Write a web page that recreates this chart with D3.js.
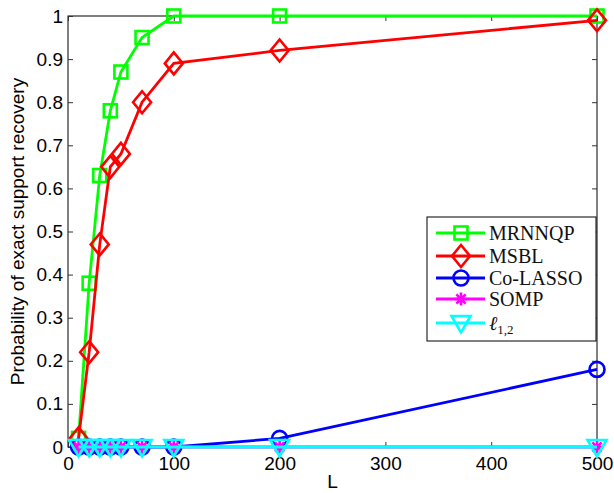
<!DOCTYPE html>
<html>
<head>
<meta charset="utf-8">
<script src="https://cdn.jsdelivr.net/npm/d3@7"></script>
<style>
  body { margin: 0; background: #fff; }
</style>
</head>
<body>
<div id="chart"></div>
<script>
// data
const L = [10, 20, 30, 40, 50, 70, 100, 200, 500];
const mrnnqp = [0.02, 0.38, 0.63, 0.78, 0.87, 0.95, 1.0, 1.0, 1.0];
const msbl = [0.02, 0.22, 0.47, 0.65, 0.68, 0.80, 0.89, 0.92, 0.99];
const colasso = [0, 0, 0, 0, 0, 0, 0, 0.02, 0.18];
const somp = [0, 0, 0, 0, 0, 0, 0, 0, 0];
const l12 = [0, 0, 0, 0, 0, 0, 0, 0, 0];
const xTicks = [0, 100, 200, 300, 400, 500];
const yTicks = [0, 0.1, 0.2, 0.3, 0.4, 0.5, 0.6, 0.7, 0.8, 0.9, 1];

const series = [
  {name: "MRNNQP", values: mrnnqp, color: "#00ff00", marker: "square"},
  {name: "MSBL", values: msbl, color: "#ff0000", marker: "diamond"},
  {name: "Co-LASSO", values: colasso, color: "#0000ff", marker: "circle"},
  {name: "SOMP", values: somp, color: "#ff00ff", marker: "star"},
  {name: "l12", values: l12, color: "#00ffff", marker: "triangle"}
];

const width = 614, height = 493;
const margin = {left: 68, right: 17, top: 16, bottom: 46};
const sans = "'Liberation Sans', Arial, sans-serif";
const serif = "'Liberation Serif', 'Times New Roman', serif";

const svg = d3.select("#chart").append("svg")
  .attr("width", width)
  .attr("height", height);

const x = d3.scaleLinear().domain([0, 500]).range([margin.left, width - margin.right]);
const y = d3.scaleLinear().domain([0, 1]).range([height - margin.bottom, margin.top]);

// axes box
svg.append("rect")
  .attr("x", x(0)).attr("y", y(1))
  .attr("width", x(500) - x(0)).attr("height", y(0) - y(1))
  .attr("fill", "white").attr("stroke", "black").attr("stroke-width", 1);

function styleTicks(g) {
  g.select(".domain").remove();
  g.selectAll("text").style("font-family", sans).attr("font-size", 19).attr("fill", "black");
  g.selectAll("line").attr("stroke", "#333");
}

// bottom axis + mirrored ticks on top
svg.append("g")
  .attr("transform", `translate(0,${y(0)})`)
  .call(d3.axisBottom(x).tickValues(xTicks).tickSize(-5).tickPadding(10).tickFormat(d3.format("d")))
  .call(styleTicks);
svg.append("g")
  .attr("transform", `translate(0,${y(1)})`)
  .call(d3.axisTop(x).tickValues(xTicks).tickSize(-5).tickFormat(""))
  .call(styleTicks);

svg.append("g")
  .attr("transform", `translate(${x(0)},0)`)
  .call(d3.axisLeft(y).tickValues(yTicks).tickSize(-5).tickPadding(5).tickFormat(d => String(+d.toFixed(1))))
  .call(styleTicks);
svg.append("g")
  .attr("transform", `translate(${x(500)},0)`)
  .call(d3.axisRight(y).tickValues(yTicks).tickSize(-5).tickFormat(""))
  .call(styleTicks);

// axis labels
svg.append("text")
  .attr("x", (x(0) + x(500)) / 2).attr("y", 488)
  .attr("text-anchor", "middle").attr("font-size", 19).style("font-family", sans)
  .text("L");
svg.append("text")
  .attr("transform", `translate(24,${(y(0) + y(1)) / 2}) rotate(-90)`)
  .attr("text-anchor", "middle").attr("font-size", 19).style("font-family", sans)
  .text("Probability of exact support recovery");

function drawMarker(g, type, cx, cy, color) {
  const sw = 2.6;
  if (type === "square") {
    g.append("rect").attr("x", cx - 6.5).attr("y", cy - 6.5).attr("width", 13).attr("height", 13)
      .attr("fill", "none").attr("stroke", color).attr("stroke-width", sw);
  } else if (type === "diamond") {
    g.append("path").attr("d", `M${cx},${cy - 11}L${cx + 9},${cy}L${cx},${cy + 11}L${cx - 9},${cy}Z`)
      .attr("fill", "none").attr("stroke", color).attr("stroke-width", sw);
  } else if (type === "circle") {
    g.append("circle").attr("cx", cx).attr("cy", cy).attr("r", 7.5)
      .attr("fill", "none").attr("stroke", color).attr("stroke-width", sw);
  } else if (type === "star") {
    const r = 6.5;
    const p = [];
    for (let i = 0; i < 4; i++) {
      const a = i * Math.PI / 4;
      p.push(`M${cx - r * Math.cos(a)},${cy - r * Math.sin(a)}L${cx + r * Math.cos(a)},${cy + r * Math.sin(a)}`);
    }
    g.append("path").attr("d", p.join("")).attr("stroke", color).attr("stroke-width", sw);
  } else if (type === "triangle") {
    g.append("path").attr("d", `M${cx - 9.5},${cy - 7}L${cx + 9.5},${cy - 7}L${cx},${cy + 9.5}Z`)
      .attr("fill", "none").attr("stroke", color).attr("stroke-width", sw);
  }
}

const line = d3.line().x(d => x(d[0])).y(d => y(d[1]));
const plot = svg.append("g");

series.forEach(s => {
  const pts = L.map((l, i) => [l, s.values[i]]);
  plot.append("path").datum(pts)
    .attr("d", line)
    .attr("fill", "none").attr("stroke", s.color).attr("stroke-width", 2.8);
  pts.forEach(p => drawMarker(plot, s.marker, x(p[0]), y(p[1]), s.color));
});

// legend
const lg = svg.append("g");
const lx = 427, ly = 217, lw = 169, lh = 124;
const rowY = [233, 256, 278, 299, 323];
lg.append("rect").attr("x", lx).attr("y", ly).attr("width", lw).attr("height", lh)
  .attr("fill", "white").attr("stroke", "black").attr("stroke-width", 1);
series.forEach((s, i) => {
  const cy = rowY[i];
  lg.append("line").attr("x1", lx + 9).attr("x2", lx + 58).attr("y1", cy).attr("y2", cy)
    .attr("stroke", s.color).attr("stroke-width", 2.8);
  drawMarker(lg, s.marker, lx + 34, cy, s.color);
  const t = lg.append("text").attr("x", lx + 62).attr("y", cy + 6.5)
    .style("font-family", serif).attr("font-size", 20).attr("fill", "#111");
  if (s.name === "l12") {
    t.append("tspan").attr("font-style", "italic").text("ℓ");
    t.append("tspan").attr("font-size", 13).attr("dy", 4).text("1,2");
  } else {
    t.text(s.name);
  }
});
</script>
</body>
</html>
